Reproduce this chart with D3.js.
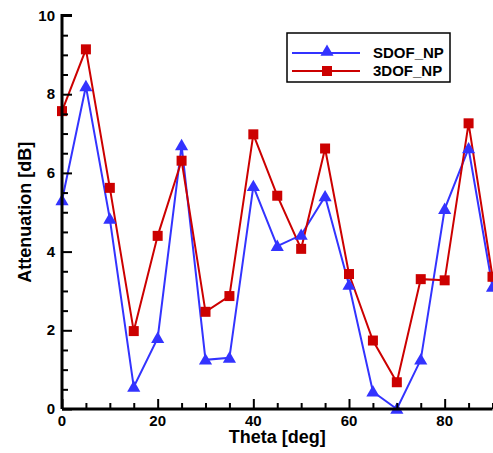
<!DOCTYPE html>
<html lang="en">
<head>
<meta charset="utf-8">
<title>Attenuation vs Theta</title>
<script src="https://cdn.jsdelivr.net/npm/d3@7"></script>
<style>
  body { margin: 0; background: #fff; }
  text { font-family: "Liberation Sans", Arial, sans-serif; font-weight: bold; }
</style>
</head>
<body>
<script>
// data
var theta = [0, 5, 10, 15, 20, 25, 30, 35, 40, 45, 50, 55, 60, 65, 70, 75, 80, 85, 90];
var sdof = [5.3, 8.2, 4.83, 0.56, 1.8, 6.7, 1.25, 1.3, 5.66, 4.14, 4.42, 5.4, 3.15, 0.44, 0.0, 1.25, 5.08, 6.62, 3.1];
var dof3 = [7.57, 9.14, 5.62, 1.98, 4.4, 6.31, 2.47, 2.87, 6.98, 5.42, 4.07, 6.62, 3.43, 1.74, 0.68, 3.3, 3.27, 7.26, 3.36];
var seriesNames = ["SDOF_NP", "3DOF_NP"];
var xTicks = [0, 20, 40, 60, 80];
var yTicks = [0, 2, 4, 6, 8, 10];

var w = 493, h = 453;
var pLeft = 62, pRight = 492.5, pTop = 15.5, pBottom = 409;

var svg = d3.select("body").append("svg")
    .attr("width", w)
    .attr("height", h);

var x = d3.scaleLinear().domain([0, 90]).range([pLeft, pRight]);
var y = d3.scaleLinear().domain([0, 10]).range([pBottom, pTop]);

var colors = ["#3333ff", "#cc0000"];

// lines
var line = d3.line()
    .x(function(d, i) { return x(theta[i]); })
    .y(function(d) { return y(d); });

[sdof, dof3].forEach(function(s, k) {
  svg.append("path")
    .datum(s)
    .attr("d", line)
    .attr("fill", "none")
    .attr("stroke", colors[k])
    .attr("stroke-width", 2);
});

// markers
var tri = d3.symbol().type(d3.symbolTriangle).size(75);
svg.selectAll("path.tri")
  .data(sdof)
  .enter()
  .append("path")
  .attr("class", "tri")
  .attr("d", tri)
  .attr("transform", function(d, i) { return "translate(" + x(theta[i]) + "," + (y(d) + 1) + ")"; })
  .attr("fill", colors[0]);

svg.selectAll("rect.sq")
  .data(dof3)
  .enter()
  .append("rect")
  .attr("class", "sq")
  .attr("x", function(d, i) { return x(theta[i]) - 5; })
  .attr("y", function(d) { return y(d) - 5; })
  .attr("width", 10)
  .attr("height", 10)
  .attr("fill", colors[1]);

// axes, ticks pointing inward
var xAxis = svg.append("g")
  .attr("transform", "translate(0," + pBottom + ")")
  .call(d3.axisTop(x).tickValues(d3.range(0, 91, 5)).tickSize(6).tickFormat(""));
xAxis.selectAll(".tick line").filter(function(d) { return d % 20 == 0; }).attr("y2", -10);

var yAxis = svg.append("g")
  .attr("transform", "translate(" + pLeft + ",0)")
  .call(d3.axisRight(y).tickValues(d3.range(0, 10.01, 0.5)).tickSize(6).tickFormat(""));
yAxis.selectAll(".tick line").filter(function(d) { return d % 2 == 0; }).attr("x2", 10);

svg.selectAll(".domain").attr("stroke", "#000").attr("stroke-width", 3);
svg.selectAll(".tick line").attr("stroke", "#000").attr("stroke-width", 2);

// the outer-tick hooks of the domain path are removed
xAxis.select(".domain").attr("d", "M" + pLeft + ",0H" + pRight);
yAxis.select(".domain").attr("d", "M0," + pBottom + "V" + pTop + "H10");

svg.selectAll("text.xt")
  .data(xTicks)
  .enter()
  .append("text")
  .attr("x", function(d) { return x(d); })
  .attr("y", pBottom + 17)
  .attr("text-anchor", "middle")
  .attr("font-size", "15px")
  .text(function(d) { return d; });

svg.selectAll("text.yt")
  .data(yTicks)
  .enter()
  .append("text")
  .attr("x", pLeft - 7)
  .attr("y", function(d) { return y(d) + 5; })
  .attr("text-anchor", "end")
  .attr("font-size", "15px")
  .text(function(d) { return d; });

svg.append("text")
  .attr("x", x(45))
  .attr("y", 443)
  .attr("text-anchor", "middle")
  .attr("font-size", "18px")
  .text("Theta [deg]");

svg.append("text")
  .attr("transform", "translate(31," + y(5) + ") rotate(-90)")
  .attr("text-anchor", "middle")
  .attr("font-size", "18px")
  .text("Attenuation [dB]");

// legend
var lg = svg.append("g").attr("transform", "translate(287,33)");
lg.append("rect")
  .attr("width", 163)
  .attr("height", 49)
  .attr("fill", "#fff")
  .attr("stroke", "#000")
  .attr("stroke-width", 1.5);

seriesNames.forEach(function(name, k) {
  var yy = 20 + k * 18;
  lg.append("line")
    .attr("x1", 5).attr("x2", 73)
    .attr("y1", yy).attr("y2", yy)
    .attr("stroke", colors[k])
    .attr("stroke-width", 2);
  if (k == 0) {
    lg.append("path")
      .attr("d", tri)
      .attr("transform", "translate(40," + (yy - 1) + ")")
      .attr("fill", colors[k]);
  } else {
    lg.append("rect")
      .attr("x", 35).attr("y", yy - 5)
      .attr("width", 10).attr("height", 10)
      .attr("fill", colors[k]);
  }
  lg.append("text")
    .attr("x", 86)
    .attr("y", yy + 5)
    .attr("font-size", "15px")
    .text(name);
});
</script>
</body>
</html>
